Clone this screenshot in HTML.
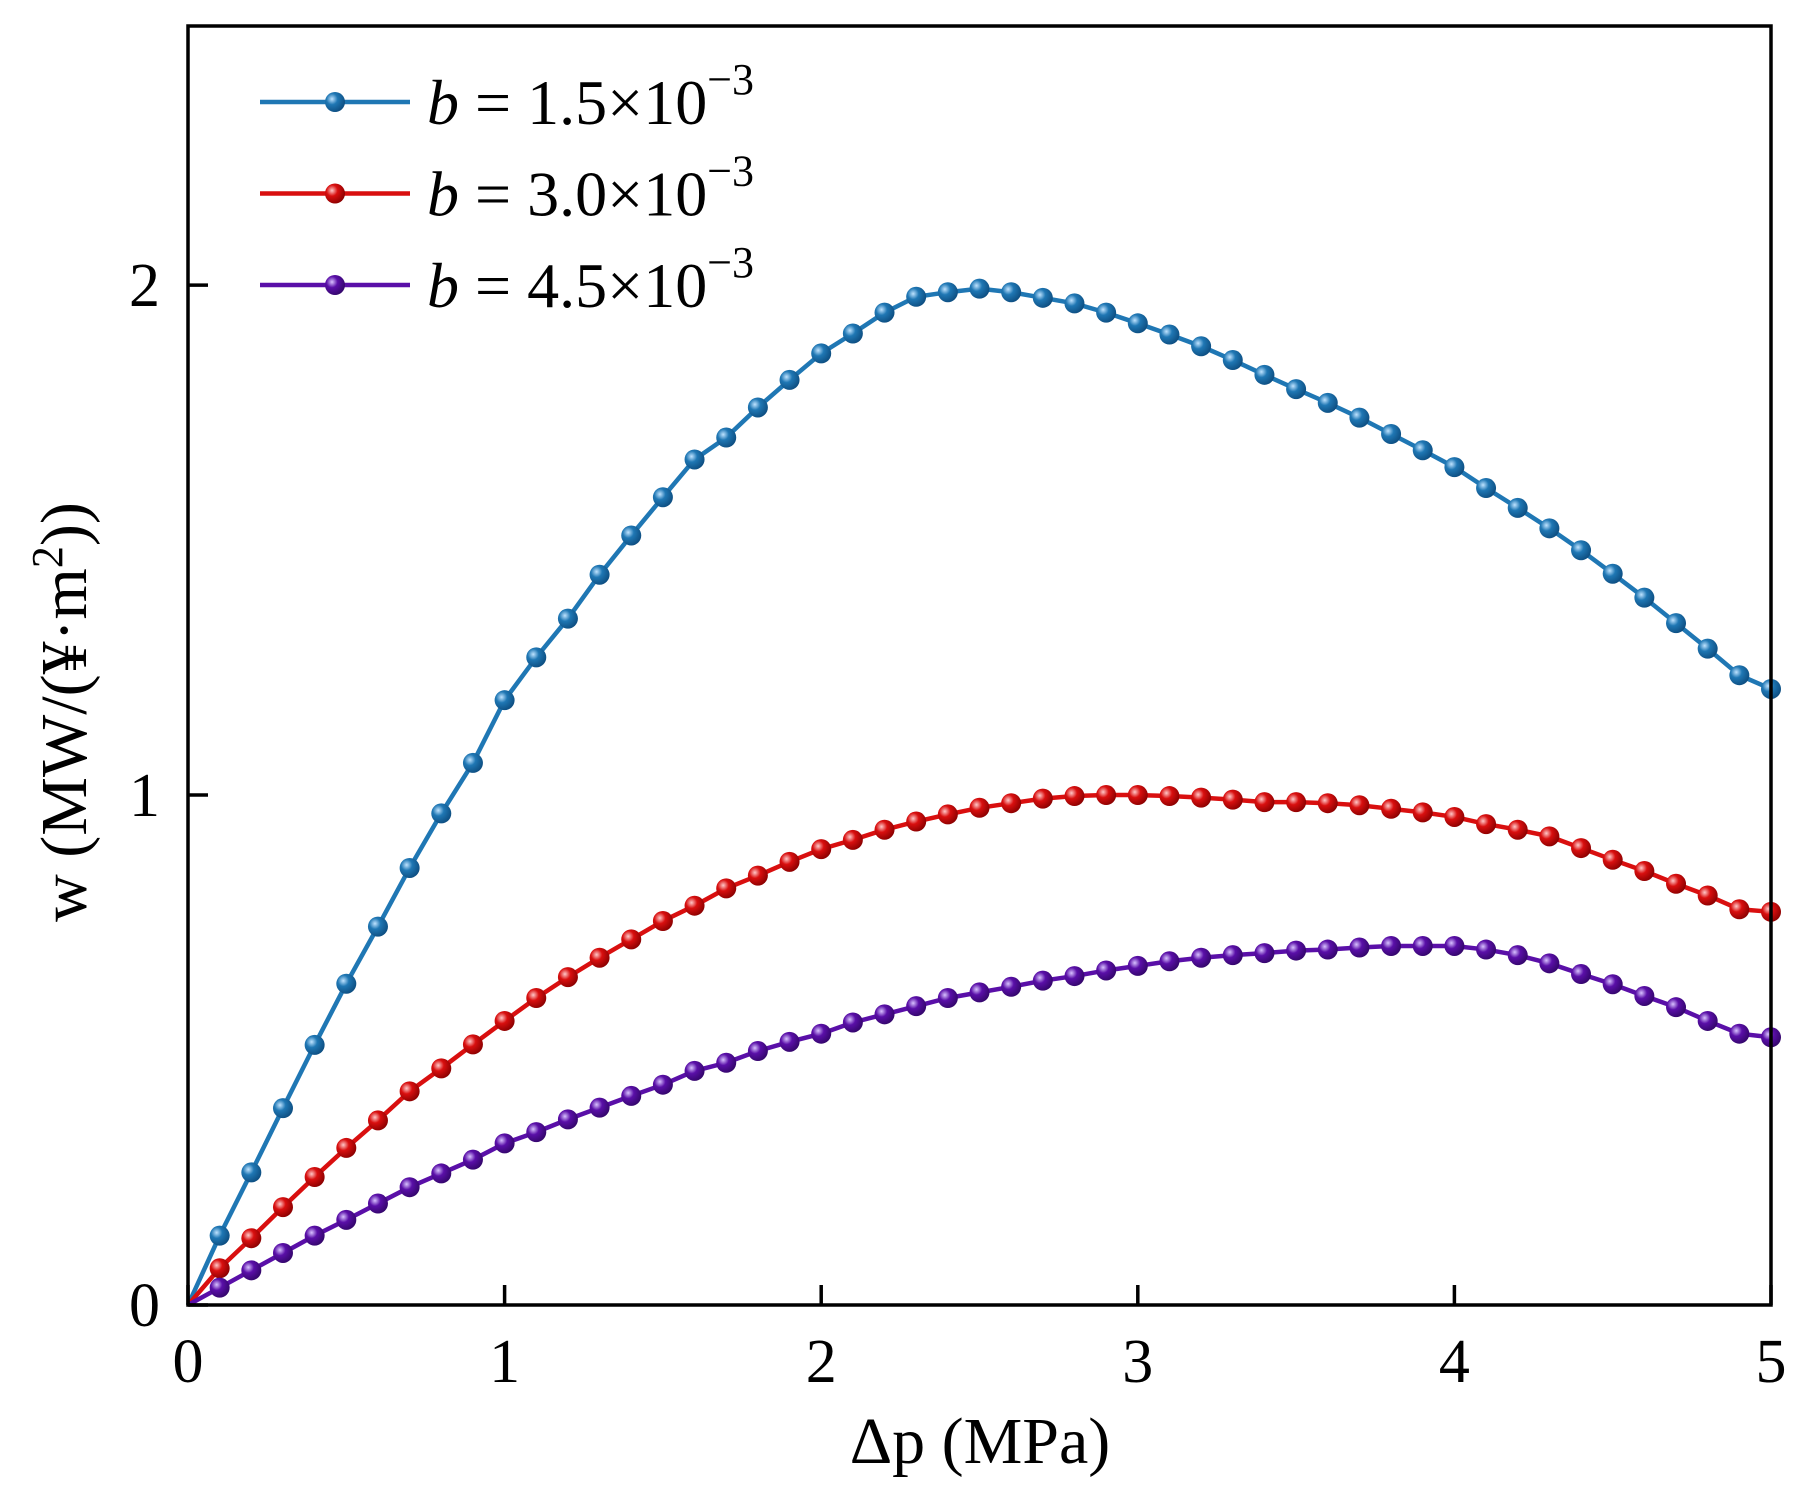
<!DOCTYPE html>
<html><head><meta charset="utf-8"><style>
html,body{margin:0;padding:0;background:#fff;}
svg{display:block;font-family:"Liberation Serif","Noto Serif CJK SC",serif;}
</style></head><body>
<svg id="chart" width="1811" height="1499" viewBox="0 0 1811 1499">
<defs>
<radialGradient id="gb" cx="35%" cy="35%" r="70%"><stop offset="0" stop-color="#bfe3ff"/><stop offset="0.4" stop-color="#1f77b4"/><stop offset="1" stop-color="#0d4d80"/></radialGradient>
<radialGradient id="gr" cx="35%" cy="35%" r="70%"><stop offset="0" stop-color="#ffc8c8"/><stop offset="0.4" stop-color="#d90f0f"/><stop offset="1" stop-color="#8a0000"/></radialGradient>
<radialGradient id="gp" cx="35%" cy="35%" r="70%"><stop offset="0" stop-color="#d8c2ff"/><stop offset="0.4" stop-color="#5a0fa8"/><stop offset="1" stop-color="#33066a"/></radialGradient>
</defs>
<g id="plot"></g>
<rect x="188" y="26" width="1583" height="1279" fill="none" stroke="#000" stroke-width="3.5"/>
<g id="axes"></g>
<text x="980" y="1463" font-size="66" text-anchor="middle">Δp (MPa)</text>
<text transform="translate(86,712) rotate(-90)" font-size="66" text-anchor="middle">w (MW/(¥·m<tspan dy="-24" font-size="44">2</tspan><tspan dy="24">))</tspan></text>
<g id="legend"></g>
</svg>
<script>
const xs = [0.1,0.2,0.3,0.4,0.5,0.6,0.7,0.8,0.9,1.0,1.1,1.2,1.3,1.4,1.5,1.6,1.7,1.8,1.9,2.0,2.1,2.2,2.3,2.4,2.5,2.6,2.7,2.8,2.9,3.0,3.1,3.2,3.3,3.4,3.5,3.6,3.7,3.8,3.9,4.0,4.1,4.2,4.3,4.4,4.5,4.6,4.7,4.8,4.9,5.0];
const blue = [0.136,0.26,0.386,0.51,0.63,0.742,0.857,0.964,1.063,1.186,1.27,1.346,1.432,1.509,1.584,1.658,1.701,1.76,1.814,1.866,1.905,1.946,1.977,1.986,1.993,1.986,1.975,1.964,1.946,1.925,1.903,1.88,1.853,1.824,1.796,1.769,1.74,1.708,1.676,1.643,1.602,1.563,1.523,1.48,1.434,1.387,1.337,1.287,1.235,1.208];
const red = [0.072,0.131,0.192,0.251,0.308,0.362,0.419,0.464,0.511,0.557,0.602,0.643,0.681,0.717,0.753,0.783,0.817,0.842,0.869,0.894,0.912,0.932,0.948,0.962,0.975,0.984,0.993,0.998,1.0,1.0,0.998,0.995,0.991,0.986,0.986,0.984,0.98,0.973,0.966,0.957,0.943,0.932,0.919,0.896,0.873,0.851,0.826,0.803,0.776,0.771];
const purple = [0.034,0.068,0.102,0.136,0.167,0.199,0.231,0.258,0.285,0.317,0.339,0.364,0.387,0.41,0.432,0.459,0.475,0.498,0.516,0.532,0.554,0.57,0.586,0.602,0.613,0.624,0.636,0.645,0.656,0.665,0.674,0.681,0.686,0.69,0.695,0.697,0.701,0.704,0.704,0.704,0.697,0.686,0.67,0.649,0.629,0.606,0.584,0.557,0.532,0.525];
const xTicks = [0,1,2,3,4,5];
const yTicks = [0,1,2];
const legendValues = ["1.5","3.0","4.5"];

const NS="http://www.w3.org/2000/svg";
const X0=188,X1=1771,Y0=1305,Y1=26,XMAX=5,YMAX=2.508;
const sx=v=>X0+(X1-X0)*v/XMAX;
const sy=v=>Y0-(Y0-Y1)*v/YMAX;
function mk(t,a,p){const e=document.createElementNS(NS,t);for(const k in a)e.setAttribute(k,a[k]);p.appendChild(e);return e;}
const plot=document.getElementById('plot'),axes=document.getElementById('axes'),leg=document.getElementById('legend');
const series=[{d:blue,c:"#1f77b4",g:"url(#gb)",n:"blue"},{d:red,c:"#d90f0f",g:"url(#gr)",n:"red"},{d:purple,c:"#5a0fa8",g:"url(#gp)",n:"purple"}];
series.forEach(s=>{
  let pts=[[sx(0),sy(0)]].concat(xs.map((x,i)=>[sx(x),sy(s.d[i])]));
  const pl=mk('polyline',{points:pts.map(p=>p.join(',')).join(' '),fill:'none',stroke:s.c,'stroke-width':4.5},plot);
  
  
  xs.forEach((x,i)=>{
    const c=mk('circle',{cx:sx(x),cy:sy(s.d[i]),r:10,fill:s.g},plot);
    
    
  });
});
xTicks.forEach(t=>{
  const l=mk('line',{x1:sx(t),x2:sx(t),y1:Y0,y2:Y0-20,stroke:'#000','stroke-width':3.5},axes);
  
  
  const tx=mk('text',{x:sx(t),y:1382,'font-size':62,'text-anchor':'middle'},axes);tx.textContent=t;
  
  
});
yTicks.forEach(t=>{
  const l=mk('line',{x1:X0,x2:X0+20,y1:sy(t),y2:sy(t),stroke:'#000','stroke-width':3.5},axes);
  
  
  const tx=mk('text',{x:160,y:sy(t)+21,'font-size':62,'text-anchor':'end'},axes);tx.textContent=t;
  
  
});
series.forEach((s,i)=>{
  const y=102+i*91.5;
  const g=mk('g',{},leg);
  
  
  mk('line',{x1:260,x2:410,y1:y,y2:y,stroke:s.c,'stroke-width':4.5},g);
  mk('circle',{cx:335,cy:y,r:10,fill:s.g},g);
  const t=mk('text',{x:427,y:y+22,'font-size':64},g);
  t.innerHTML='<tspan font-style="italic">b</tspan> = '+legendValues[i]+'×10<tspan dy="-30" font-size="44">−3</tspan>';
});
</script>
</body></html>
